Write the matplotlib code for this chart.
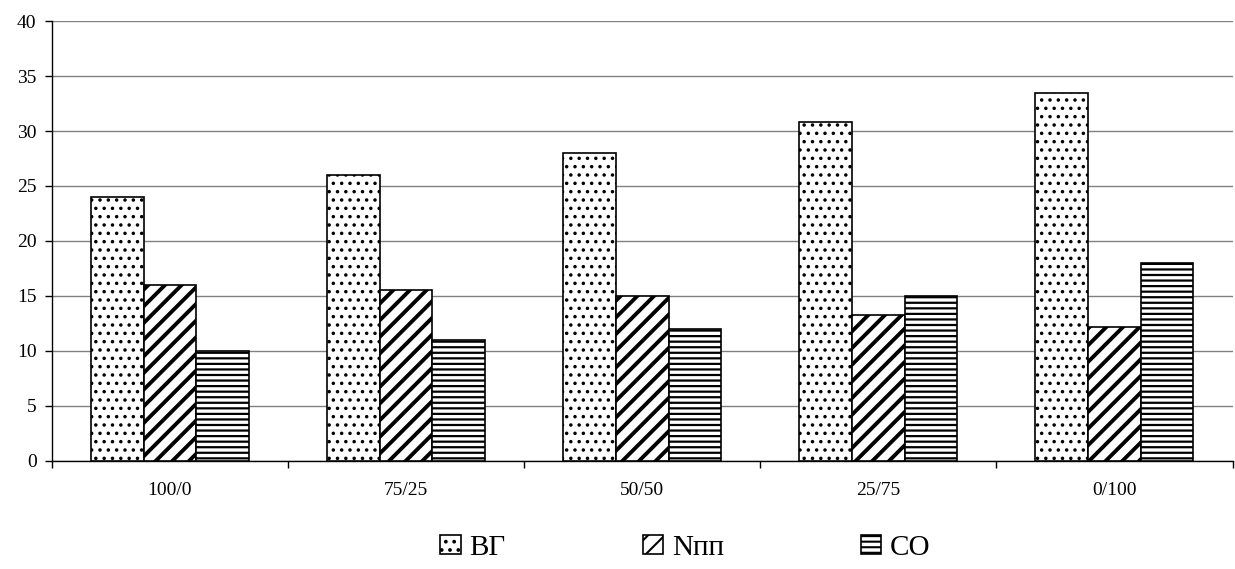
import matplotlib
matplotlib.use('Agg')
import matplotlib.pyplot as plt
import numpy as np

categories = ['100/0', '75/25', '50/50', '25/75', '0/100']
series_names = ['ВГ', 'Nпп', 'CO']
vg = [24.0, 26.0, 28.0, 30.8, 33.5]
npp = [16.0, 15.5, 15.0, 13.3, 12.2]
co = [10.0, 11.0, 12.0, 15.0, 18.0]

plt.rcParams['font.family'] = ['Liberation Serif', 'DejaVu Serif']

fig = plt.figure(figsize=(12.35, 5.69), dpi=100)
ax = fig.add_axes([0.042, 0.19, 0.956, 0.773])

x = np.arange(len(categories))
width = 0.223
hatches = ['..', '//', '---']
hatch_lw = [1.3, 2.8, 1.6]

for i, (vals, name) in enumerate(zip([vg, npp, co], series_names)):
    bars = ax.bar(x + (i - 1) * width, vals, width, label=name,
                  facecolor='white', edgecolor='black', linewidth=1.2,
                  hatch=hatches[i], zorder=3)
    for b in bars:
        if hasattr(b, 'set_hatch_linewidth'):
            b.set_hatch_linewidth(hatch_lw[i])

ax.set_xlim(-0.5, len(categories) - 0.5)
ax.set_ylim(0, 40)
ax.set_yticks(np.arange(0, 41, 5))
ax.yaxis.grid(True, color='#808080', linewidth=1.0, zorder=0)
ax.set_axisbelow(True)

ax.set_xticks(x)
ax.set_xticklabels(categories, fontsize=14)
ax.set_xticks(np.arange(-0.5, len(categories), 1.0), minor=True)
ax.tick_params(axis='x', which='major', length=0, pad=15)
ax.tick_params(axis='x', which='minor', length=5, width=1, direction='out')
ax.tick_params(axis='y', length=5, width=1, labelsize=14, pad=6)

for s in ['top', 'right']:
    ax.spines[s].set_visible(False)
ax.spines['left'].set_linewidth(1.0)
ax.spines['bottom'].set_linewidth(1.0)

leg = fig.legend(loc='center', bbox_to_anchor=(0.555, 0.037), ncol=3, frameon=False,
                 fontsize=21, handlelength=0.7, handleheight=0.65, handletextpad=0.3,
                 columnspacing=4.7)
for h in leg.legend_handles:
    if hasattr(h, 'set_hatch_linewidth'):
        h.set_hatch_linewidth(1.5)

fig.savefig('out.png', dpi=100, facecolor='white')
